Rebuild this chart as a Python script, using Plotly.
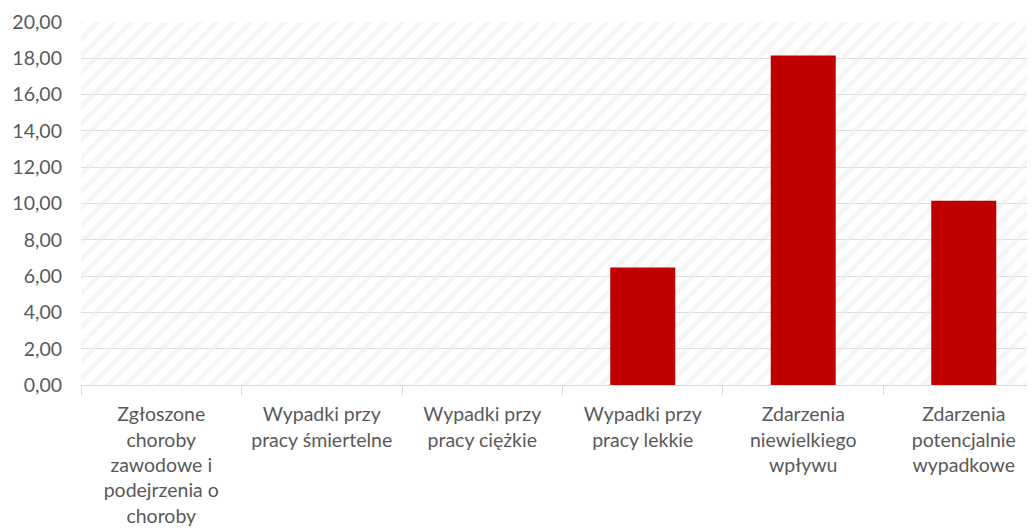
import plotly.graph_objects as go

categories = [
    "Zgłoszone<br>choroby<br>zawodowe i<br>podejrzenia o<br>choroby",
    "Wypadki przy<br>pracy śmiertelne",
    "Wypadki przy<br>pracy ciężkie",
    "Wypadki przy<br>pracy lekkie",
    "Zdarzenia<br>niewielkiego<br>wpływu",
    "Zdarzenia<br>potencjalnie<br>wypadkowe",
]
values = [0, 0, 0, 6.48, 18.16, 10.15]
y_ticks = [0, 2, 4, 6, 8, 10, 12, 14, 16, 18, 20]

y_min, y_max = 0, 20
x_min, x_max = -0.5, 5.444

fig = go.Figure()

# hatched background of the plot area (decoration, on a hidden linear axis)
fig.add_trace(go.Scatter(
    x=[x_min, x_max + 1, x_max + 1, x_min, x_min],
    y=[y_min, y_min, y_max, y_max, y_min],
    xaxis="x", yaxis="y",
    mode="lines", line=dict(width=0),
    fill="toself", fillcolor="rgba(255,255,255,0)",
    fillpattern=dict(shape="/", fgcolor="#ececec", bgcolor="rgba(255,255,255,0)",
                     size=12, solidity=0.4),
    hoverinfo="skip", showlegend=False,
))

fig.add_trace(go.Bar(
    x=categories, y=values,
    xaxis="x2", yaxis="y",
    marker=dict(color="#c00000", line=dict(width=0)),
    width=0.405,
    showlegend=False,
))

font = dict(family="Lato, 'Open Sans', sans-serif", size=19.5, color="#595959")

fig.update_layout(
    width=1027, height=521,
    margin=dict(l=73, r=0, t=14, b=144),
    paper_bgcolor="white", plot_bgcolor="white",
    font=font,
    separators=",.",
    xaxis=dict(
        type="linear", range=[x_min, x_max], visible=False, fixedrange=True,
        automargin=False,
    ),
    xaxis2=dict(
        type="category", overlaying="x", side="bottom", anchor="y",
        range=[x_min, x_max],
        showgrid=False, showline=True, linecolor="#d9d9d9", linewidth=1,
        ticks="outside", tickson="boundaries", ticklen=9, tickcolor="#d9d9d9",
        tickfont=font, zeroline=False, fixedrange=True, automargin=False,
        ticklabelstandoff=12,
    ),
    yaxis=dict(
        range=[y_min, y_max], tickvals=y_ticks, tickformat=".2f",
        showgrid=True, gridcolor="#d9dde5", gridwidth=1,
        zeroline=False, showline=False, ticks="",
        tickfont=font, ticklabelstandoff=18, automargin=False,
    ),
)

fig.write_html("out.html")
